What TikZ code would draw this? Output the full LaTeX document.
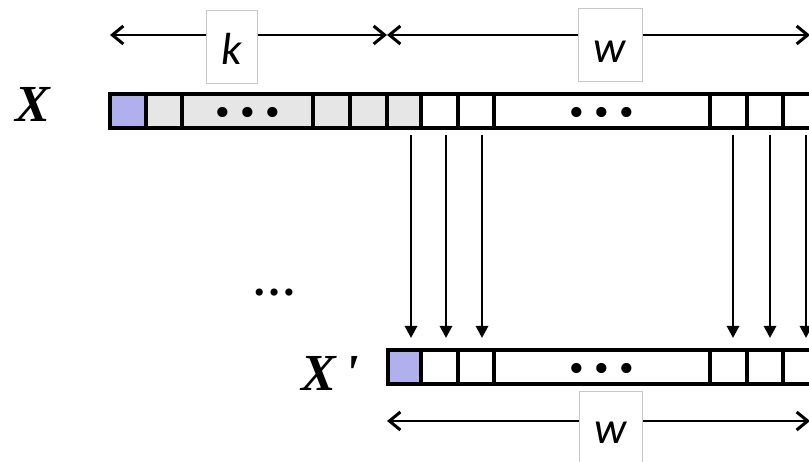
\documentclass[tikz,border=0pt]{standalone}
\usepackage{fontspec}
\setmainfont{Liberation Serif}
\newfontfamily\lblfont{Carlito}
\newfontfamily\dotfont{DejaVu Sans}
\usetikzlibrary{arrows.meta}
\definecolor{cellblue}{RGB}{176,176,236}
\definecolor{cellgrey}{RGB}{230,230,230}
\definecolor{boxgrey}{RGB}{200,200,200}
\newcommand{\threedots}{\makebox[25pt]{•}\makebox[25pt]{•}\makebox[25pt]{•}}
\begin{document}
\begin{tikzpicture}[x=1pt,y=-1pt,
  cellline/.style={line width=3.8pt, line join=miter},
  dimline/.style={line width=2.8pt, {Straight Barb[length=11pt,width=18pt,line width=3pt]}-{Straight Barb[length=11pt,width=18pt,line width=3pt]}},
  movearrow/.style={line width=2.8pt, -{Triangle[length=12pt,width=12pt]}},
  lenlabel/.style={draw=boxgrey, line width=1pt, fill=white, inner sep=0pt, minimum height=73pt, font=\lblfont\itshape\fontsize{45}{45}\selectfont, text height=34pt, text depth=0pt},
  varlabel/.style={font=\bfseries\itshape\fontsize{52}{52}\selectfont, inner sep=0pt, anchor=base},
  bardots/.style={font=\dotfont\fontsize{35}{35}\selectfont, inner sep=0pt, anchor=base},
]
\useasboundingbox (0,0) rectangle (809,462);
\clip (0,0) rectangle (809,462);
% upper bar X
\foreach \a/\b/\c in {110/146/cellblue,146/182/cellgrey,182/313/cellgrey,313/350/cellgrey,350/387/cellgrey,387/421/cellgrey,421/458/white,458/494/white,494/710/white,710/747/white,747/783/white,783/822/white}{
  \draw[cellline, fill=\c] (\a,94) rectangle (\b,128);
}
% lower bar X'
\foreach \a/\b/\c in {388/421/cellblue,421/458/white,458/494/white,494/710/white,710/747/white,747/783/white,783/822/white}{
  \draw[cellline, fill=\c] (\a,350) rectangle (\b,384);
}
% dots inside bars
\node[bardots] (d1) at (247.5,125.3) {\threedots};
\node[bardots] (d2) at (602,125.3) {\threedots};
\node[bardots] (d3) at (602,381.3) {\threedots};
% dimension arrows
\coordinate (kL) at (110,35);
\coordinate (kR) at (387,35);
\coordinate (wR) at (810,35);
\coordinate (vL) at (387,421);
\coordinate (vR) at (810,421);
\draw[dimline] (kL) -- (kR);
\draw[dimline] (kR) -- (wR);
\draw[dimline] (vL) -- (vR);
\node[lenlabel, minimum width=51pt] (klab) at (231.5,47.5) {k};
\node[lenlabel, minimum width=64pt] (wlab) at (610,45.5) {w};
\node[lenlabel, minimum width=63pt, text height=29pt] (wlabb) at (610.5,428.5) {w};
% copy arrows
\foreach \i/\x in {1/411,2/446,3/482,4/733,5/770,6/806}{
  \coordinate (t\i) at (\x,135);
  \coordinate (h\i) at (\x,338);
  \draw[movearrow] (t\i) -- (h\i);
}
% labels
\node[varlabel] (xlab) at (32.5,122) {X};
\node[varlabel] (xplab) at (330,391) {X\,\textquotesingle};
\node[font=\bfseries\fontsize{44}{44}\selectfont, inner sep=0pt, anchor=base] (mid) at (274.5,295.5) {…};
\end{tikzpicture}
\end{document}
